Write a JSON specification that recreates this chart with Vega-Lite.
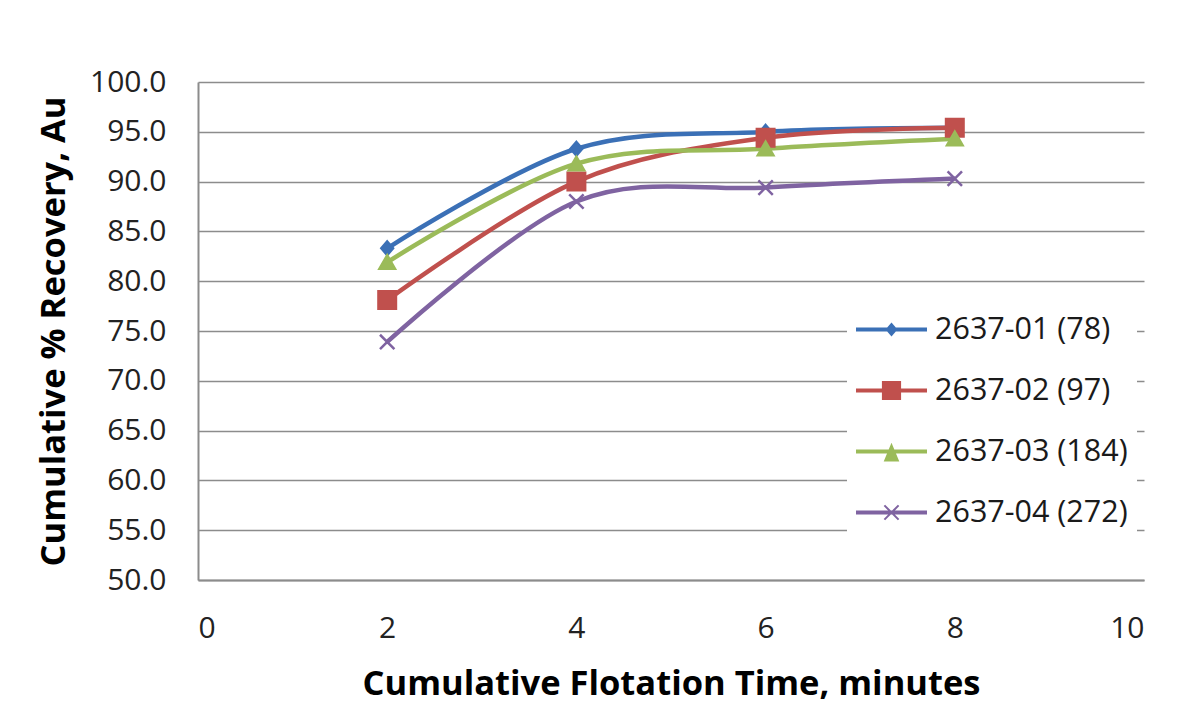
{
  "$schema": "https://vega.github.io/schema/vega-lite/v6.json",
  "width": 946,
  "height": 498,
  "autosize": {"type": "none"},
  "padding": {"left": 198, "top": 82, "right": 60, "bottom": 128},
  "background": "white",
  "config": {
    "view": {"stroke": null},
    "font": "Open Sans",
    "axis": {"labelFont": "Open Sans", "titleFont": "Open Sans", "labelColor": "#222222", "titleColor": "#000000"}
  },
  "data": {
    "values": [
      {"t": 2, "r": 83.3, "s": "2637-01 (78)"},
      {"t": 4, "r": 93.3, "s": "2637-01 (78)"},
      {"t": 6, "r": 95.0, "s": "2637-01 (78)"},
      {"t": 8, "r": 95.4, "s": "2637-01 (78)"},
      {"t": 2, "r": 78.1, "s": "2637-02 (97)"},
      {"t": 4, "r": 90.0, "s": "2637-02 (97)"},
      {"t": 6, "r": 94.4, "s": "2637-02 (97)"},
      {"t": 8, "r": 95.4, "s": "2637-02 (97)"},
      {"t": 2, "r": 81.9, "s": "2637-03 (184)"},
      {"t": 4, "r": 91.8, "s": "2637-03 (184)"},
      {"t": 6, "r": 93.3, "s": "2637-03 (184)"},
      {"t": 8, "r": 94.3, "s": "2637-03 (184)"},
      {"t": 2, "r": 73.9, "s": "2637-04 (272)"},
      {"t": 4, "r": 88.0, "s": "2637-04 (272)"},
      {"t": 6, "r": 89.4, "s": "2637-04 (272)"},
      {"t": 8, "r": 90.3, "s": "2637-04 (272)"}
    ]
  },
  "encoding": {
    "x": {
      "field": "t", "type": "quantitative",
      "scale": {"domain": [0, 10], "nice": false},
      "axis": {
        "values": [0, 2, 4, 6, 8, 10], "grid": false, "ticks": false,
        "domainColor": "#8c8c8c", "domainWidth": 2,
        "labelFontSize": 30, "labelPadding": 33,
        "title": "Cumulative Flotation Time, minutes",
        "titleFontSize": 34.5, "titleFontWeight": "bold", "titlePadding": 24
      }
    },
    "y": {
      "field": "r", "type": "quantitative",
      "scale": {"domain": [50, 100], "nice": false, "zero": false},
      "axis": {
        "values": [50, 55, 60, 65, 70, 75, 80, 85, 90, 95, 100], "format": ".1f",
        "grid": true, "gridColor": "#8c8c8c", "gridWidth": 1.6,
        "ticks": false, "domainColor": "#8c8c8c", "domainWidth": 2,
        "labelFontSize": 30, "labelPadding": 32,
        "title": "Cumulative % Recovery, Au",
        "titleFontSize": 34.5, "titleFontWeight": "bold", "titlePadding": 18
      }
    },
    "color": {
      "field": "s", "type": "nominal",
      "scale": {
        "domain": ["2637-01 (78)", "2637-02 (97)", "2637-03 (184)", "2637-04 (272)"],
        "range": ["#3b70b6", "#c0504d", "#9bbb59", "#7f63a1"]
      },
      "legend": {
        "title": null,
        "orient": "none",
        "legendX": 649,
        "legendY": 203,
        "padding": 9,
        "fillColor": "white",
        "symbolSize": 5041,
        "labelFontSize": 30.5,
        "labelFont": "Open Sans",
        "labelColor": "#1a1a1a",
        "labelOffset": 8,
        "rowPadding": 10,
        "labelLimit": 400,
        "labelExpr": "datum.label + '\u00a0\u00a0'",
        "encode": {
          "symbols": {
            "update": {
              "shape": {"signal": "datum.value === '2637-01 (78)' ? 'M-1,-0.056H1V0.056H-1ZM0,-0.2L0.17,0L0,0.2L-0.17,0Z' : datum.value === '2637-02 (97)' ? 'M-1,-0.056H1V0.056H-1ZM-0.27,-0.27H0.27V0.27H-0.27Z' : datum.value === '2637-03 (184)' ? 'M-1,-0.056H1V0.056H-1ZM0,-0.25L0.22,0.28L-0.22,0.28Z' : 'M-1,-0.056H1V0.056H-1ZM-0.18,-0.22L0.22,0.18L0.18,0.22L-0.22,-0.18ZM0.18,-0.22L0.22,-0.18L-0.18,0.22L-0.22,0.18Z'"},
              "fill": {"scale": "color", "field": "value"},
              "stroke": {"value": "transparent"},
              "strokeWidth": {"value": 0},
              "opacity": {"value": 1}
            }
          }
        }
      }
    }
  },
  "layer": [
    {
      "mark": {"type": "line", "interpolate": "cardinal", "strokeWidth": 4.5},
      "encoding": {"order": {"field": "t", "type": "quantitative"}}
    },
    {
      "transform": [{"filter": "datum.s === '2637-01 (78)'"}],
      "mark": {"type": "point", "filled": true, "size": 400, "strokeWidth": 2, "opacity": 1, "stroke": "#3b70b6", "shape": "M0,-0.72L0.62,0L0,0.72L-0.62,0Z"}
    },
    {
      "transform": [{"filter": "datum.s === '2637-02 (97)'"}],
      "mark": {"type": "point", "filled": true, "size": 400, "strokeWidth": 2, "opacity": 1, "stroke": "#c0504d", "shape": "M-0.9,-0.9H0.9V0.9H-0.9Z"}
    },
    {
      "transform": [{"filter": "datum.s === '2637-03 (184)'"}],
      "mark": {"type": "point", "filled": true, "size": 400, "strokeWidth": 2, "opacity": 1, "stroke": "#9bbb59", "shape": "M0,-0.75L0.82,0.68L-0.82,0.68Z"}
    },
    {
      "transform": [{"filter": "datum.s === '2637-04 (272)'"}],
      "mark": {"type": "point", "filled": true, "size": 400, "strokeWidth": 2.5, "opacity": 1, "stroke": "#7f63a1", "shape": "M-0.72,-0.72L0.72,0.72M-0.72,0.72L0.72,-0.72"}
    }
  ]
}
